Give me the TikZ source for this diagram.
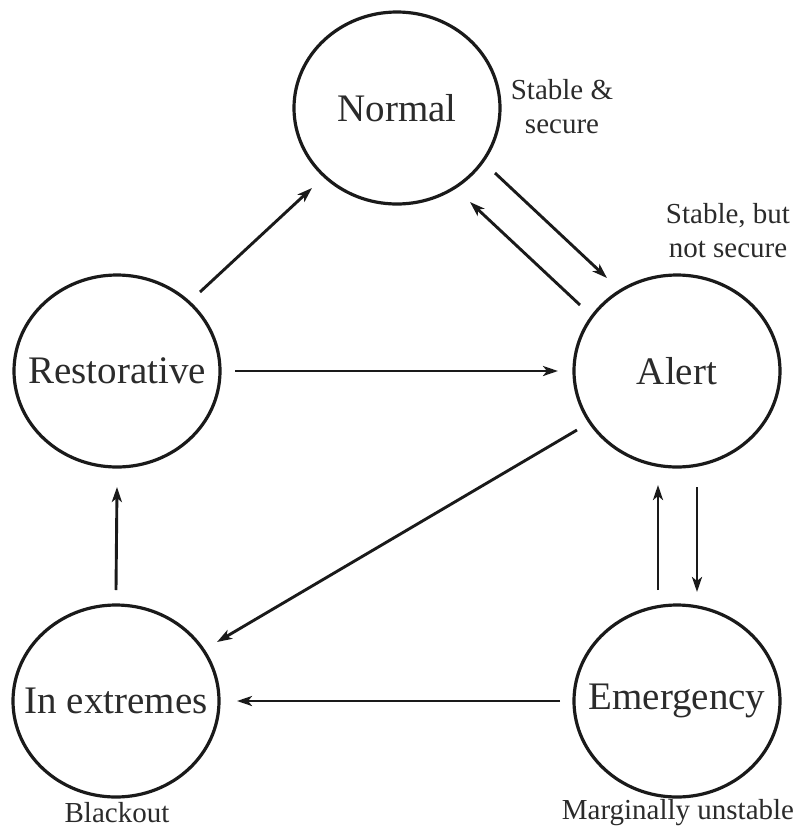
\documentclass[tikz,border=0pt]{standalone}
\usepackage{fontspec}
\setmainfont{Liberation Serif}
\usetikzlibrary{arrows.meta,shapes.geometric}
\definecolor{StateLine}{HTML}{1A1A1A}
\definecolor{StateText}{HTML}{2B2B2B}
\newcommand{\statetext}[1]{\makebox[0pt]{#1}}
\tikzset{>={Stealth[length=15pt,width=10pt,inset=4pt]},
 state/.style={ellipse,draw=StateLine,line width=3.2pt,minimum width=206pt,
 minimum height=192pt,inner sep=0pt,text=StateText,font=\fontsize{39}{40}\selectfont},
 note/.style={align=center,text=StateText,font=\fontsize{29}{34}\selectfont},
 link/.style={->,draw=StateLine,line width=2.9pt}}
\begin{document}
\begin{tikzpicture}[x=1pt,y=-1pt]
\useasboundingbox (0,0) rectangle (799,831);
\node[state] (norm) at (397,108) {\statetext{Normal}};
\node[state] (rest) at (117,371) {\statetext{Restorative}};
\node[state] (alert) at (677,371) {\statetext{Alert}};
\node[state] (extr) at (116,701) {\statetext{In extremes}};
\node[state] (emer) at (677,701) {\statetext{Emergency}};
\node[note] (normnote) at (562,107) {Stable \&\\secure};
\node[note] (alertnote) at (728,231) {Stable, but\\not secure};
\node[note] (extrnote) at (117,813) {Blackout};
\node[note] (emernote) at (678,813) {Marginally unstable};
\draw[link] ([shift={(83,-79)}]rest.center) -- ([shift={(-85,80)}]norm.center);
\draw[link] ([shift={(98,65)}]norm.center) -- ([shift={(-70,-93)}]alert.center);
\draw[link] ([shift={(-97,-66)}]alert.center) -- ([shift={(73,94)}]norm.center);
\draw[link] ([xshift=118]rest.center) -- ([xshift=-119]alert.center);
\draw[link] ([shift={(-100,59)}]alert.center) -- ([shift={(101,-59)}]extr.center);
\draw[link] ([xshift=-117]emer.center) -- ([xshift=121]extr.center);
\draw[link] ([yshift=111]extr.center) -- ([yshift=-116]rest.center);
\draw[link] ([shift={(-19,-111)}]emer.center) -- ([shift={(-19,114)}]alert.center);
\draw[link] ([shift={(20,116)}]alert.center) -- ([shift={(20,-109)}]emer.center);
\end{tikzpicture}
\end{document}
